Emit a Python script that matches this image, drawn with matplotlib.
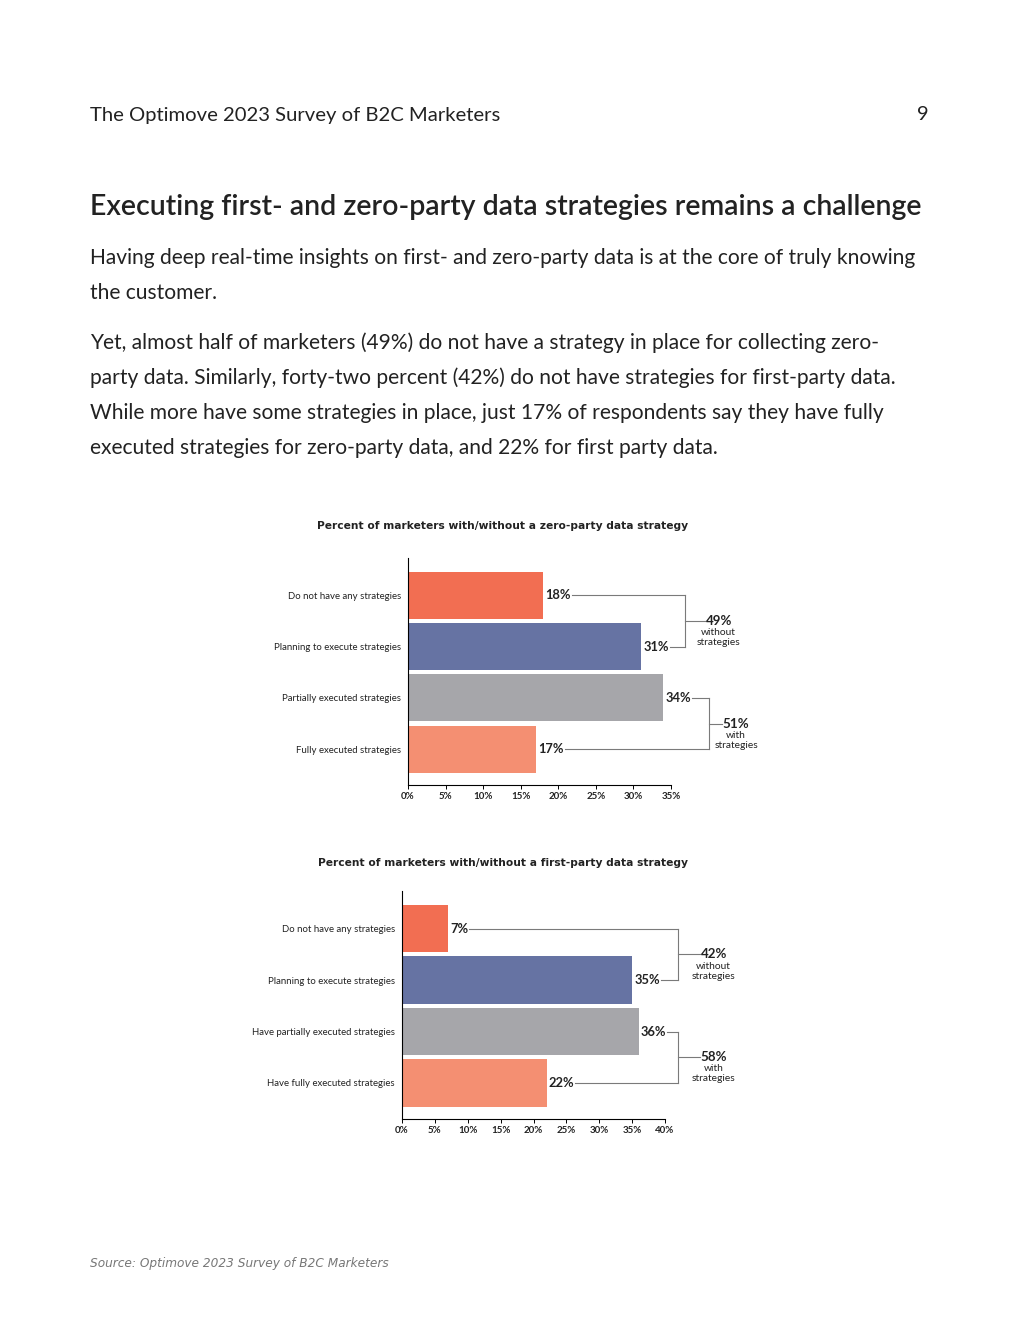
import matplotlib
matplotlib.use("Agg")
import matplotlib.pyplot as plt

plt.rcParams['font.family'] = ['Lato', 'DejaVu Sans']

W, H = 1020, 1320

# chart data
cats_zero = ["Do not have any strategies", "Planning to execute strategies",
             "Partially executed strategies", "Fully executed strategies"]
vals_zero = [18, 31, 34, 17]
cats_first = ["Do not have any strategies", "Planning to execute strategies",
              "Have partially executed strategies", "Have fully executed strategies"]
vals_first = [7, 35, 36, 22]
colors = ["#F26E52", "#6673A3", "#A6A6AA", "#F48F72"]
groups_zero = ["49%", "51%"]
groups_first = ["42%", "58%"]
group_words = ["without\nstrategies", "with\nstrategies"]
ticks_zero = [0, 5, 10, 15, 20, 25, 30, 35]
ticks_first = [0, 5, 10, 15, 20, 25, 30, 35, 40]

TXT = "#222222"
LINE = "#7a7a7a"


def fy(py):
    return 1 - py / H


def fx(px):
    return px / W


fig = plt.figure(figsize=(W / 100, H / 100), dpi=100)
fig.patch.set_facecolor("white")

# page text
fig.text(fx(90), fy(115), "The Optimove 2023 Survey of B2C Marketers", fontsize=14.6,
         color=TXT, va="center")
fig.text(fx(929), fy(115), "9", fontsize=14.5, color=TXT, va="center", ha="right")
fig.text(fx(90), fy(207), "Executing first- and zero-party data strategies remains a challenge",
         fontsize=20.5, color=TXT, va="center", fontweight="semibold")
body = [
    (258, "Having deep real-time insights on first- and zero-party data is at the core of truly knowing"),
    (293, "the customer."),
    (343, "Yet, almost half of marketers (49%) do not have a strategy in place for collecting zero-"),
    (378, "party data. Similarly, forty-two percent (42%) do not have strategies for first-party data."),
    (413, "While more have some strategies in place, just 17% of respondents say they have fully"),
    (448, "executed strategies for zero-party data, and 22% for first party data."),
]
for py, line in body:
    fig.text(fx(90), fy(py), line, fontsize=15.15, color=TXT, va="center")

fig.text(fx(90), fy(1264), "Source: Optimove 2023 Survey of B2C Marketers", fontsize=8.75,
         color="#777777", style="italic", va="center", family="DejaVu Sans")


def draw_chart(rect, cats, vals, ticks, xmax, title, title_py, bx, mx, groups):
    ax = fig.add_axes(rect)
    ypos = list(range(len(cats)))
    ax.barh(ypos, vals, height=0.92, color=colors)
    ax.set_xlim(0, xmax)
    ax.set_ylim(3.70, -0.73)
    ax.set_yticks(ypos)
    ax.set_yticklabels(cats, fontsize=6.9, color=TXT)
    ax.tick_params(axis="y", length=0, pad=5)
    ax.set_xticks(ticks)
    ax.set_xticklabels([f"{t}%" for t in ticks], fontsize=7, fontweight="bold", color=TXT)
    ax.tick_params(axis="x", length=3, width=0.7, pad=2)
    for s in ["top", "right"]:
        ax.spines[s].set_visible(False)
    for s in ["left", "bottom"]:
        ax.spines[s].set_linewidth(0.8)

    fig.canvas.draw()
    r = fig.canvas.get_renderer()
    inv = ax.transData.inverted()
    ends = []
    for i, v in enumerate(vals):
        t = ax.text(v + 0.3, i, f"{v}%", fontsize=9.3, fontweight="bold", color=TXT,
                    va="center", ha="left")
        bb = t.get_window_extent(r)
        ends.append(inv.transform((bb.x1, 0))[0] + 0.15)

    # brackets
    for g, (a, b) in enumerate([(0, 1), (2, 3)]):
        x = bx[g]
        ax.plot([ends[a], x], [a, a], color=LINE, lw=0.8, clip_on=False)
        ax.plot([ends[b], x], [b, b], color=LINE, lw=0.8, clip_on=False)
        ax.plot([x, x], [a, b], color=LINE, lw=0.8, clip_on=False)
        ym = (a + b) / 2
        ax.plot([x, mx[g]], [ym, ym], color=LINE, lw=0.8, clip_on=False)
        t = ax.text(mx[g] + 0.1, ym, groups[g], fontsize=9.6, fontweight="bold", color=TXT,
                    va="center", ha="left", clip_on=False)
        bb = t.get_window_extent(r)
        cx = inv.transform(((bb.x0 + bb.x1) / 2, 0))[0]
        ax.text(cx, ym + 0.14, group_words[g], fontsize=7.4, color=TXT,
                va="top", ha="center", linespacing=1.15, clip_on=False)

    fig.text(fx(503), fy(title_py), title, fontsize=7.7, fontweight="bold",
             color=TXT, ha="center", va="center", family="DejaVu Sans")
    return ax


draw_chart([fx(408), fy(785), (671 - 408) / W, (785 - 558) / H],
           cats_zero, vals_zero, ticks_zero, 35,
           "Percent of marketers with/without a zero-party data strategy", 526,
           bx=[36.9, 40.0], mx=[39.5, 41.8], groups=groups_zero)

draw_chart([fx(402), fy(1119), (665 - 402) / W, (1119 - 891) / H],
           cats_first, vals_first, ticks_first, 40,
           "Percent of marketers with/without a first-party data strategy", 863,
           bx=[42.0, 42.0], mx=[45.3, 45.3], groups=groups_first)

fig.savefig("out.png", dpi=100, facecolor="white")
